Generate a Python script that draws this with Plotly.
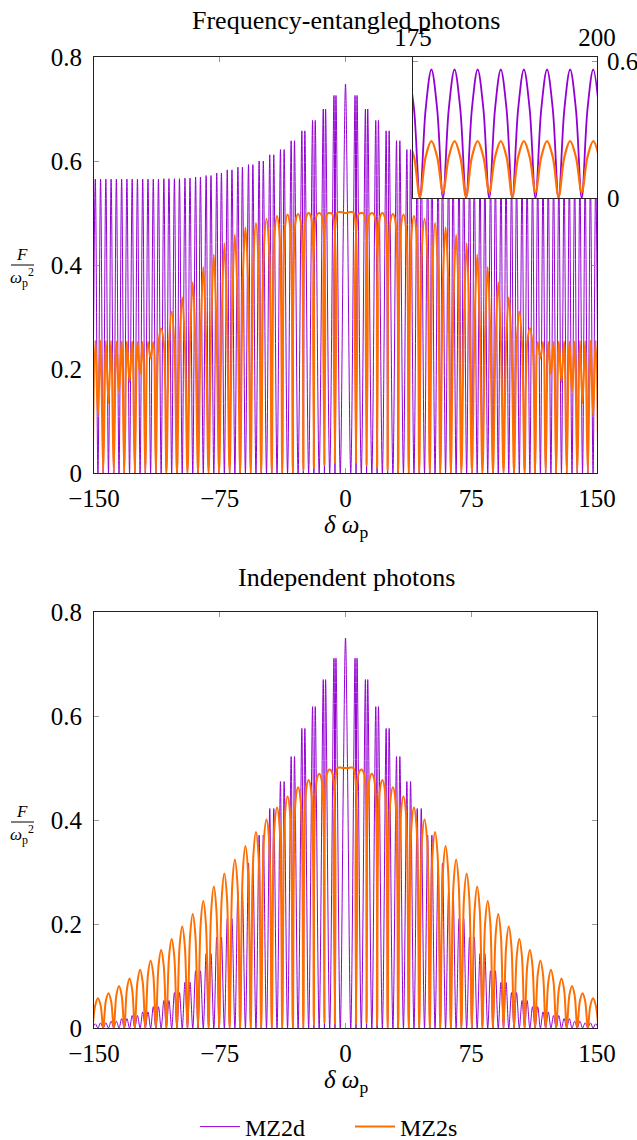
import plotly.graph_objects as go

# ---------------- data ----------------
CELL = 6.283   # spacing of the repeating 2-peak pattern along delta omega_p

# boundaries k = -24..24 (x = k*CELL), cells between them (48)
# MZ2d, frequency-entangled: height of the peak pair around each boundary
top_d_pair = [0.565, 0.565, 0.565, 0.565, 0.565, 0.565, 0.565, 0.566, 0.566, 0.567, 0.569, 0.572,
              0.577, 0.583, 0.588, 0.593, 0.600, 0.612, 0.622, 0.639, 0.658, 0.678, 0.700, 0.726,
              0.500,
              0.726, 0.700, 0.678, 0.658, 0.639, 0.622, 0.612, 0.600, 0.593, 0.588, 0.583, 0.577,
              0.572, 0.569, 0.567, 0.566, 0.566, 0.565, 0.565, 0.565, 0.565, 0.565, 0.565, 0.565]
top_d_dip = [0, 0, 0, 0, 0, 0, 0, 0, 0, 0, 0, 0, 0, 0, 0, 0, 0, 0, 0, 0, 0, 0, 0, 0,
             0.748,
             0, 0, 0, 0, 0, 0, 0, 0, 0, 0, 0, 0, 0, 0, 0, 0, 0, 0, 0, 0, 0, 0, 0, 0]
d_trough = [0, 0, 0, 0, 0, 0, 0, 0, 0, 0, 0, 0, 0, 0, 0, 0, 0, 0, 0, 0, 0, 0, 0, 0,
            0, 0, 0, 0, 0, 0, 0, 0, 0, 0, 0, 0, 0, 0, 0, 0, 0, 0, 0, 0, 0, 0, 0, 0]
pair_split = [1.57, 1.57, 1.57, 1.57, 1.57, 1.57, 1.54, 1.52, 1.50, 1.50, 1.45, 1.45,
              1.40, 1.40, 1.35, 1.30, 1.25, 1.20, 1.10, 1.00, 0.90, 0.80, 0.70, 0.60,
              1.20,
              0.60, 0.70, 0.80, 0.90, 1.00, 1.10, 1.20, 1.25, 1.30, 1.35, 1.40, 1.40,
              1.45, 1.45, 1.50, 1.50, 1.52, 1.54, 1.57, 1.57, 1.57, 1.57, 1.57, 1.57]

# MZ2s, frequency-entangled
top_s_dip = [0, 0, 0, 0, 0, 0, 0, 0, 0, 0, 0, 0, 0, 0, 0, 0, 0, 0, 0, 0,
             0.005, 0.010, 0.015, 0.020, 0.500, 0.020, 0.015, 0.010, 0.005,
             0, 0, 0, 0, 0, 0, 0, 0, 0, 0, 0, 0, 0, 0, 0, 0, 0, 0, 0, 0]
top_s_peak = [0.110, 0.134, 0.156, 0.175, 0.190, 0.220, 0.278, 0.310, 0.338, 0.367, 0.396, 0.420,
              0.442, 0.458, 0.472, 0.481, 0.489, 0.494, 0.497, 0.498, 0.500, 0.500, 0.500, 0.502,
              0.502, 0.500, 0.500, 0.500, 0.498, 0.497, 0.494, 0.489, 0.481, 0.472, 0.458, 0.442,
              0.420, 0.396, 0.367, 0.338, 0.310, 0.278, 0.220, 0.190, 0.175, 0.156, 0.134, 0.110]
top_s_shoulder = [0.255, 0.254, 0.253, 0.253, 0.252, 0.252, 0.250, 0.250, 0.250, 0.255, 0.265, 0.280,
                  0.300, 0.330, 0.370, 0.400, 0.430, 0.455, 0.470, 0.482, 0.490, 0.495, 0.498, 0.501,
                  0.501, 0.498, 0.495, 0.490, 0.482, 0.470, 0.455, 0.430, 0.400, 0.370, 0.330, 0.300,
                  0.280, 0.265, 0.255, 0.250, 0.250, 0.250, 0.252, 0.252, 0.253, 0.253, 0.254, 0.255]

# MZ2d, independent photons
bot_d_pair = [0.008, 0.010, 0.013, 0.018, 0.024, 0.031, 0.041, 0.053, 0.068, 0.088, 0.110, 0.143,
              0.175, 0.210, 0.262, 0.317, 0.371, 0.422, 0.474, 0.522, 0.576, 0.618, 0.670, 0.711,
              0.500,
              0.711, 0.670, 0.618, 0.576, 0.522, 0.474, 0.422, 0.371, 0.317, 0.262, 0.210, 0.175,
              0.143, 0.110, 0.088, 0.068, 0.053, 0.041, 0.031, 0.024, 0.018, 0.013, 0.010, 0.008]
bot_d_dip = [0, 0, 0, 0, 0, 0, 0, 0, 0, 0, 0, 0, 0, 0, 0, 0, 0, 0, 0, 0, 0, 0, 0, 0,
             0.750,
             0, 0, 0, 0, 0, 0, 0, 0, 0, 0, 0, 0, 0, 0, 0, 0, 0, 0, 0, 0, 0, 0, 0, 0]

# MZ2s, independent photons
bot_s_dip = [0, 0, 0, 0, 0, 0, 0, 0, 0, 0, 0, 0, 0, 0, 0, 0, 0, 0, 0, 0, 0,
             0.005, 0.010, 0.008, 0.500, 0.008, 0.010, 0.005,
             0, 0, 0, 0, 0, 0, 0, 0, 0, 0, 0, 0, 0, 0, 0, 0, 0, 0, 0, 0, 0]
bot_s_peak = [0.057, 0.067, 0.081, 0.095, 0.112, 0.130, 0.150, 0.171, 0.195, 0.219, 0.244, 0.272,
              0.297, 0.324, 0.350, 0.377, 0.401, 0.424, 0.445, 0.463, 0.477, 0.489, 0.497, 0.501,
              0.501, 0.497, 0.489, 0.477, 0.463, 0.445, 0.424, 0.401, 0.377, 0.350, 0.324, 0.297,
              0.272, 0.244, 0.219, 0.195, 0.171, 0.150, 0.130, 0.112, 0.095, 0.081, 0.067, 0.057]
bot_s_shoulder = [0.044, 0.052, 0.063, 0.074, 0.088, 0.103, 0.119, 0.137, 0.157, 0.178, 0.200, 0.225,
                  0.250, 0.275, 0.300, 0.330, 0.360, 0.385, 0.410, 0.435, 0.455, 0.475, 0.490, 0.500,
                  0.500, 0.490, 0.475, 0.455, 0.435, 0.410, 0.385, 0.360, 0.330, 0.300, 0.275, 0.250,
                  0.225, 0.200, 0.178, 0.157, 0.137, 0.119, 0.103, 0.088, 0.074, 0.063, 0.052, 0.044]

# inset (175..200), values every quarter of a half-cell starting at 174.36
INSET_X0 = 174.36
inset_d = [0.565, 0.39, 0.0, 0.39, 0.565, 0.39, 0.0, 0.39, 0.565, 0.39, 0.0, 0.39,
           0.565, 0.39, 0.0, 0.39, 0.565, 0.39, 0.0, 0.39, 0.565, 0.39, 0.0, 0.39,
           0.565, 0.39, 0.0, 0.39, 0.565, 0.39, 0.0, 0.39, 0.565, 0.39]
inset_s = [0.25, 0.18, 0.005, 0.18, 0.25, 0.18, 0.025, 0.18, 0.25, 0.18, 0.005, 0.18,
           0.25, 0.18, 0.025, 0.18, 0.25, 0.18, 0.005, 0.18, 0.25, 0.18, 0.025, 0.18,
           0.25, 0.18, 0.005, 0.18, 0.25, 0.18, 0.025, 0.18, 0.25, 0.18]

x_ticks = [-150, -75, 0, 75, 150]
x_ticktext = ["\u2212150", "\u221275", "0", "75", "150"]
y_ticks = [0, 0.2, 0.4, 0.6, 0.8]
y_ticktext = ["0", "0.2", "0.4", "0.6", "0.8"]
inset_xticks = [175, 200]
inset_yticks = [0, 0.6]
X_RANGE = [-150, 150]
Y_RANGE = [0, 0.8]
INSET_XRANGE = [175, 200]
INSET_YRANGE = [0, 0.62]

# ---------------- build vertex lists ----------------
N_B = len(top_d_dip)
K0 = -(N_B // 2)


def pair_curve(dips, pairs, troughs, splits):
    xs, ys = [], []
    for i in range(N_B):
        xb = (K0 + i) * CELL
        if i > 0:
            xs.append(xb - splits[i]); ys.append(pairs[i])
        xs.append(xb); ys.append(dips[i])
        if i < N_B - 1:
            xs.append(xb + splits[i]); ys.append(pairs[i])
            xs.append(xb + CELL / 2); ys.append(troughs[i])
    return xs, ys


def hump_curve(dips, shoulders, peaks):
    xs, ys = [], []
    for i in range(N_B):
        xb = (K0 + i) * CELL
        xs.append(xb); ys.append(dips[i])
        if i < N_B - 1:
            xs += [xb + CELL / 4, xb + CELL / 2, xb + 3 * CELL / 4]
            ys += [shoulders[i], peaks[i], shoulders[i]]
    return xs, ys


PURPLE = "#9400D3"
ORANGE = "#FF6E00"
W, H = 637, 1140
TICK_SIZE = 25
FONT = "Liberation Serif"

fig = go.Figure()

x, y = pair_curve(top_d_dip, top_d_pair, d_trough, pair_split)
fig.add_trace(go.Scatter(x=x, y=y, mode="lines", name="MZ2d", line=dict(color=PURPLE, width=1, shape="spline"),
                         xaxis="x", yaxis="y", legendgroup="d"))
x, y = hump_curve(top_s_dip, top_s_shoulder, top_s_peak)
fig.add_trace(go.Scatter(x=x, y=y, mode="lines", name="MZ2s", line=dict(color=ORANGE, width=2, shape="spline"),
                         xaxis="x", yaxis="y", legendgroup="s"))

x, y = pair_curve(bot_d_dip, bot_d_pair, d_trough, pair_split)
fig.add_trace(go.Scatter(x=x, y=y, mode="lines", name="MZ2d", showlegend=False,
                         line=dict(color=PURPLE, width=1, shape="spline"), xaxis="x2", yaxis="y2"))
x, y = hump_curve(bot_s_dip, bot_s_shoulder, bot_s_peak)
fig.add_trace(go.Scatter(x=x, y=y, mode="lines", name="MZ2s", showlegend=False,
                         line=dict(color=ORANGE, width=2, shape="spline"), xaxis="x2", yaxis="y2"))

# inset: white backing then the curves
fig.add_trace(go.Scatter(x=[INSET_XRANGE[0], INSET_XRANGE[1], INSET_XRANGE[1], INSET_XRANGE[0], INSET_XRANGE[0]],
                         y=[INSET_YRANGE[0], INSET_YRANGE[0], INSET_YRANGE[1], INSET_YRANGE[1], INSET_YRANGE[0]],
                         mode="lines", fill="toself", fillcolor="white", line=dict(width=0, color="white"),
                         hoverinfo="skip", showlegend=False, xaxis="x3", yaxis="y3"))
ix = [INSET_X0 + i * CELL / 8 for i in range(len(inset_d))]
fig.add_trace(go.Scatter(x=ix, y=inset_d, mode="lines", showlegend=False,
                         line=dict(color=PURPLE, width=1.8, shape="spline"), xaxis="x3", yaxis="y3"))
fig.add_trace(go.Scatter(x=ix, y=inset_s, mode="lines", showlegend=False,
                         line=dict(color=ORANGE, width=2.2, shape="spline"), xaxis="x3", yaxis="y3"))

axis_style = dict(showline=True, linecolor="#222222", linewidth=1, mirror="allticks", ticks="inside",
                  ticklen=5, tickwidth=1, tickcolor="#999999", showgrid=False, zeroline=False,
                  automargin=False, tickfont=dict(size=TICK_SIZE, color="black", family=FONT))
XD = [94 / W, 597 / W]

fig.update_layout(
    width=W, height=H, margin=dict(l=0, r=0, t=0, b=0, autoexpand=False),
    paper_bgcolor="white", plot_bgcolor="white",
    font=dict(family=FONT, size=TICK_SIZE, color="black"),
    xaxis=dict(domain=XD, anchor="y", range=X_RANGE, tickvals=x_ticks, ticktext=x_ticktext,
               ticklabelstandoff=3, **axis_style),
    yaxis=dict(domain=[1 - 473 / H, 1 - 57 / H], anchor="x", range=Y_RANGE, tickvals=y_ticks,
               ticktext=y_ticktext, ticklabelstandoff=6, **axis_style),
    xaxis2=dict(domain=XD, anchor="y2", range=X_RANGE, tickvals=x_ticks, ticktext=x_ticktext,
                ticklabelstandoff=3, **axis_style),
    yaxis2=dict(domain=[1 - 1028 / H, 1 - 612 / H], anchor="x2", range=Y_RANGE, tickvals=y_ticks,
                ticktext=y_ticktext, ticklabelstandoff=6, **axis_style),
    xaxis3=dict(domain=[413 / W, 597 / W], anchor="y3", side="top", range=INSET_XRANGE,
                tickvals=inset_xticks, ticktext=[str(v) for v in inset_xticks], ticklabelstandoff=0,
                **axis_style),
    yaxis3=dict(domain=[1 - 198 / H, 1 - 57 / H], anchor="x3", side="right", range=INSET_YRANGE,
                tickvals=inset_yticks, ticktext=["0", "0.6"], ticklabelstandoff=4, **axis_style),
    legend=dict(orientation="h", x=350 / W, xanchor="center", y=1 - 1127 / H, yanchor="middle",
                font=dict(size=24), bgcolor="rgba(0,0,0,0)", itemwidth=40, entrywidth=100),
    showlegend=True,
)


def ann(text, px, py, size=TICK_SIZE):
    fig.add_annotation(text=text, x=px / W, y=1 - py / H, xref="paper", yref="paper",
                       showarrow=False, font=dict(size=size, family=FONT), xanchor="center",
                       yanchor="middle")


ann("Frequency-entangled photons", 346, 20, 26)
ann("Independent photons", 346, 577, 26)
ann("<i>δ ω</i><sub>p</sub>", 346, 526)
ann("<i>δ ω</i><sub>p</sub>", 346, 1081)
for yc in (265, 822):
    ann("<i>F</i>", 22, yc - 11, 17)
    ann("<i>ω</i><sub>p</sub><sup>2</sup>", 22, yc + 12, 17)
    fig.add_shape(type="line", xref="paper", yref="paper", x0=11 / W, x1=34 / W,
                  y0=1 - yc / H, y1=1 - yc / H, line=dict(color="black", width=1))

# the page's default 8px body margin would shift the figure; remove it
fig.write_html("out.html", config={"displayModeBar": False},
               post_script="document.body.style.margin='0px';document.body.style.overflow='hidden';")
